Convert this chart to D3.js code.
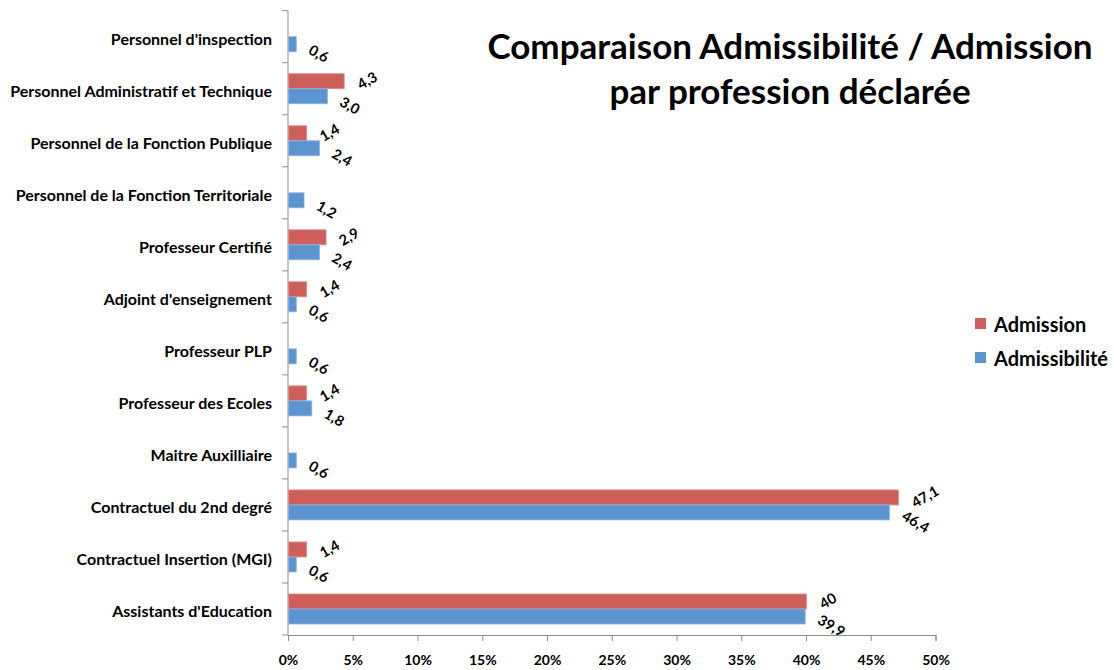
<!DOCTYPE html>
<html>
<head>
<meta charset="utf-8">
<script src="https://cdn.jsdelivr.net/npm/d3@7"></script>
<style>
  html, body { margin: 0; padding: 0; background: #fff; }
  svg { display: block; font-family: Lato, "Open Sans", sans-serif; }
</style>
</head>
<body>
<svg id="chart" width="1114" height="670"></svg>
<script>
const categories = [
  "Personnel d'inspection",
  "Personnel Administratif et Technique",
  "Personnel de la Fonction Publique",
  "Personnel de la Fonction Territoriale",
  "Professeur Certifié",
  "Adjoint d'enseignement",
  "Professeur PLP",
  "Professeur des Ecoles",
  "Maitre Auxilliaire",
  "Contractuel du 2nd degré",
  "Contractuel Insertion (MGI)",
  "Assistants d'Education"
];
const admission      = [null, 4.3, 1.4, null, 2.9, 1.4, null, 1.4, null, 47.1, 1.4, 40];
const admissionLbl   = [null, "4,3", "1,4", null, "2,9", "1,4", null, "1,4", null, "47,1", "1,4", "40"];
const admissibilite  = [0.6, 3.0, 2.4, 1.2, 2.4, 0.6, 0.6, 1.8, 0.6, 46.4, 0.6, 39.9];
const admissibiliteLbl = ["0,6", "3,0", "2,4", "1,2", "2,4", "0,6", "0,6", "1,8", "0,6", "46,4", "0,6", "39,9"];
const xTicks = [0, 5, 10, 15, 20, 25, 30, 35, 40, 45, 50];
const seriesNames = ["Admission", "Admissibilité"];
const titleLines = ["Comparaison Admissibilité / Admission", "par profession déclarée"];

const colors = { "Admission": "#CF5F5B", "Admissibilité": "#5C94CF" };
const strokeColors = { "Admission": "#DC8E8B", "Admissibilité": "#8DB5DF" };

const svg = d3.select("#chart");
const plotLeft = 288, plotRight = 935.5, plotTop = 10.7, plotBottom = 635;

const x = d3.scaleLinear().domain([0, 50]).range([plotLeft, plotRight]);
const y = d3.scaleBand().domain(categories).range([plotTop, plotBottom]).padding(0);
const barH = 15;

const axisColor = "#8C8C8C";
svg.append("line").attr("x1", plotLeft).attr("x2", plotLeft).attr("y1", plotTop).attr("y2", plotBottom)
  .attr("stroke", axisColor).attr("stroke-width", 1);
const boundaries = categories.map((c) => y(c)).concat([plotBottom]);
svg.selectAll(".ytick").data(boundaries).enter().append("line")
  .attr("x1", plotLeft - 6).attr("x2", plotLeft)
  .attr("y1", d => d).attr("y2", d => d)
  .attr("stroke", axisColor);

const xAxis = d3.axisBottom(x).tickValues(xTicks).tickSize(6).tickPadding(14)
  .tickFormat(d => d + "%");
const gx = svg.append("g").attr("transform", `translate(0,${plotBottom})`).call(xAxis);
gx.select(".domain").attr("stroke", axisColor);
gx.selectAll(".tick line").attr("stroke", axisColor);
gx.selectAll(".tick text").attr("fill", "#000").attr("font-size", 14).attr("font-weight", "bold")
  .attr("font-family", "Lato, sans-serif");

svg.selectAll(".ylab").data(categories).enter().append("text")
  .attr("x", 272).attr("y", d => y(d) + y.bandwidth() / 2 + 2)
  .attr("text-anchor", "end").attr("dominant-baseline", "central")
  .attr("font-size", 16).attr("font-weight", "bold").attr("fill", "#000")
  .text(d => d);

function drawSeries(values, labels, name, offset, rot, dy) {
  const data = categories.map((c, i) => ({ c, v: values[i], l: labels[i] })).filter(d => d.v != null);
  svg.selectAll(".bar-" + offset).data(data).enter().append("rect")
    .attr("x", x(0) + 0.5)
    .attr("y", d => y(d.c) + y.bandwidth() / 2 + offset)
    .attr("width", d => x(d.v) - x(0))
    .attr("height", barH)
    .attr("fill", colors[name])
    .attr("stroke", strokeColors[name]).attr("stroke-width", 0.8);
  const g = svg.selectAll(".lbl-" + offset).data(data).enter().append("g");
  g.each(function(d) {
    const t = d3.select(this).append("text")
      .attr("text-anchor", "middle").attr("dominant-baseline", "central")
      .attr("font-size", 14.5).attr("font-weight", "bold").attr("fill", "#000")
      .text(d.l);
    const w = t.node().getComputedTextLength();
    const ext = w * Math.cos(Math.PI / 6) + 14 * Math.sin(Math.PI / 6);
    const cx = x(d.v) + 11 + ext / 2;
    const cy = y(d.c) + y.bandwidth() / 2 + offset + barH / 2 + dy;
    d3.select(this).attr("transform", `translate(${cx},${cy}) rotate(${rot})`);
  });
}
drawSeries(admission, admissionLbl, "Admission", -15, -30, -1);
drawSeries(admissibilite, admissibiliteLbl, "Admissibilité", 0, 30, 9);

svg.selectAll(".title").data(titleLines).enter().append("text")
  .attr("x", 790).attr("y", (d, i) => 59 + i * 45)
  .attr("text-anchor", "middle").attr("font-size", 35).attr("font-weight", "bold").attr("fill", "#000")
  .text(d => d);

const lg = svg.selectAll(".leg").data(seriesNames).enter().append("g")
  .attr("transform", (d, i) => `translate(975,${318 + i * 34})`);
lg.append("rect").attr("width", 11).attr("height", 11).attr("fill", d => colors[d]);
lg.append("text").attr("x", 19).attr("y", 6).attr("dominant-baseline", "central")
  .attr("font-size", 20).attr("font-weight", "bold").attr("fill", "#000").text(d => d);
</script>
</body>
</html>
